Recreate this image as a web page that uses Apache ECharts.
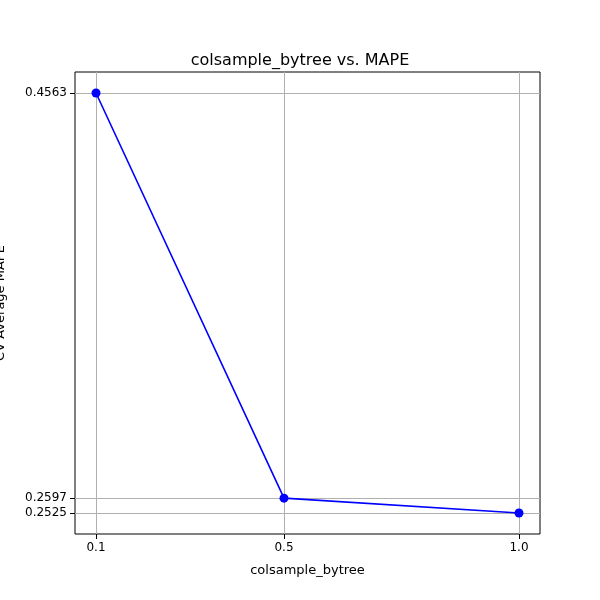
<!DOCTYPE html>
<html lang="en">
<head>
<meta charset="UTF-8">
<title>colsample_bytree vs. MAPE</title>
<script src="https://cdn.jsdelivr.net/npm/echarts@6/dist/echarts.min.js"></script>
<style>html,body{margin:0;padding:0;background:#fff}#chart{width:600px;height:600px}</style>
</head>
<body>
<div id="chart"></div>
<script>
var xValues = [0.1, 0.5, 1.0];
var mapeValues = [0.4563, 0.2597, 0.2525];

var points = xValues.map(function (x, i) { return [x, mapeValues[i]]; });

var chart = echarts.init(document.getElementById('chart'));
chart.setOption({
    animation: false,
    title: {
        text: 'colsample_bytree vs. MAPE', left: 'center', top: 48,
        textStyle: { fontFamily: 'DejaVu Sans', fontSize: 16, fontWeight: 'normal', color: '#000' }
    },
    grid: { left: 75, right: 60, top: 72, bottom: 66, show: true, borderColor: '#000', borderWidth: 1,
        containLabel: false, outerBoundsMode: 'none' },
    xAxis: {
        type: 'value', min: 0.0553, max: 1.0447,
        name: 'colsample_bytree', nameLocation: 'middle', nameGap: 30,
        nameTextStyle: { fontFamily: 'DejaVu Sans', fontSize: 13, color: '#000' },
        axisLine: { show: false },
        splitLine: { show: true, lineStyle: { color: '#b0b0b0', width: 1 } },
        axisTick: { show: true, customValues: xValues, lineStyle: { color: '#000' } },
        axisLabel: { customValues: xValues, color: '#000', fontFamily: 'DejaVu Sans', fontSize: 12,
            formatter: function (v) { return v.toFixed(1); } }
    },
    yAxis: {
        type: 'value', min: 0.2423, max: 0.4665,
        name: 'CV Average MAPE', nameLocation: 'middle', nameGap: 68,
        nameTextStyle: { fontFamily: 'DejaVu Sans', fontSize: 13, color: '#000' },
        axisLine: { show: false },
        splitLine: { show: true, lineStyle: { color: '#b0b0b0', width: 1 } },
        axisTick: { show: true, customValues: mapeValues, lineStyle: { color: '#000' } },
        axisLabel: { customValues: mapeValues, color: '#000', fontFamily: 'DejaVu Sans', fontSize: 12,
            formatter: function (v) { return v.toFixed(4); } }
    },
    series: [{
        type: 'line', data: points,
        symbol: 'circle', symbolSize: 9,
        lineStyle: { color: '#0000ff', width: 1.6 },
        itemStyle: { color: '#0000ff' }
    }]
});
</script>
</body>
</html>
